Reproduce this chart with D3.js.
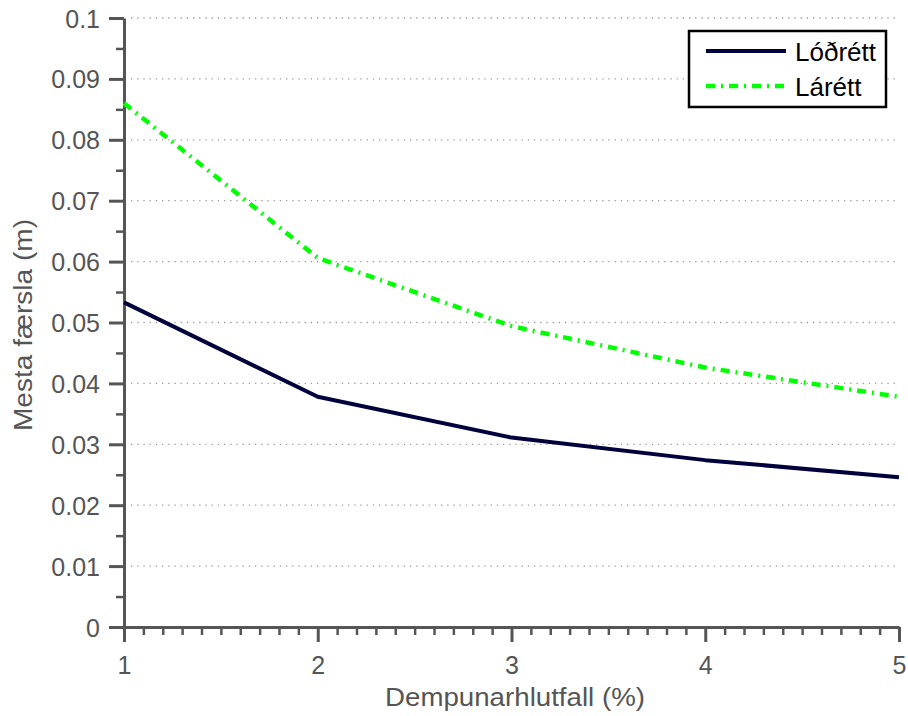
<!DOCTYPE html>
<html>
<head>
<meta charset="utf-8">
<script src="https://cdn.jsdelivr.net/npm/d3@7"></script>
<style>
  html, body { margin: 0; padding: 0; background: #fff; }
  svg { display: block; }
  text { font-family: "Liberation Sans", Arial, sans-serif; }
</style>
</head>
<body>
<svg id="chart" width="908" height="716"></svg>
<script>
// Damping ratio (%) and peak displacement (m)
const dampingRatio = [1, 2, 3, 4, 5];
const verticalDisp = [0.0533, 0.0378, 0.0311, 0.0274, 0.0246];   // Lóðrétt
const horizontalDisp = [0.0860, 0.0606, 0.0494, 0.0426, 0.0378]; // Lárétt

const seriesNames = ["Lóðrétt", "Lárétt"];
const xTickValues = [1, 2, 3, 4, 5];
const yTickValues = [0, 0.01, 0.02, 0.03, 0.04, 0.05, 0.06, 0.07, 0.08, 0.09, 0.1];
const yTickLabels = ["0", "0.01", "0.02", "0.03", "0.04", "0.05", "0.06", "0.07", "0.08", "0.09", "0.1"];
const xTitle = "Dempunarhlutfall (%)";
const yTitle = "Mesta færsla (m)";

const svg = d3.select("#chart");
const axisColor = "#555";

const x = d3.scaleLinear().domain([1, 5]).range([124, 899]);
const y = d3.scaleLinear().domain([0, 0.1]).range([627, 18]);

// horizontal dotted grid at the major y ticks
svg.append("g").selectAll("line")
  .data(yTickValues.filter(v => v > 0))
  .join("line")
  .attr("x1", x(1) + 7).attr("x2", x(5))
  .attr("y1", d => y(d)).attr("y2", d => y(d))
  .attr("stroke", "#9a9a9a")
  .attr("stroke-width", 1.3)
  .attr("stroke-dasharray", "1.3,4.9");

// minor ticks
const xMinor = d3.range(10, 51).map(v => v / 10).filter(v => !xTickValues.includes(v));
const yMinor = d3.range(0, 21).map(v => v * 0.005).filter((v, i) => i % 2 === 1);

svg.append("g").attr("transform", `translate(0,${y(0)})`)
  .call(d3.axisBottom(x).tickValues(xMinor).tickSize(8).tickFormat(""))
  .call(g => g.select(".domain").remove())
  .call(g => g.selectAll("line").attr("stroke", axisColor).attr("stroke-width", 2.5));

svg.append("g").attr("transform", `translate(${x(1)},0)`)
  .call(d3.axisLeft(y).tickValues(yMinor).tickSize(8).tickFormat(""))
  .call(g => g.select(".domain").remove())
  .call(g => g.selectAll("line").attr("stroke", axisColor).attr("stroke-width", 2.5));

// major axes
const xAxis = svg.append("g").attr("transform", `translate(0,${y(0)})`)
  .call(d3.axisBottom(x).tickValues(xTickValues).tickSize(15).tickSizeOuter(0).tickPadding(14)
    .tickFormat(d3.format("d")));
const yAxis = svg.append("g").attr("transform", `translate(${x(1)},0)`)
  .call(d3.axisLeft(y).tickValues(yTickValues).tickSize(15).tickSizeOuter(0).tickPadding(9)
    .tickFormat((d, i) => yTickLabels[i]));

[xAxis, yAxis].forEach(g => {
  g.select(".domain").attr("stroke", axisColor).attr("stroke-width", 3);
  g.selectAll(".tick line").attr("stroke", axisColor).attr("stroke-width", 3);
  g.selectAll(".tick text").attr("fill", axisColor).style("font-size", "25px")
    .style("font-family", "'Liberation Sans', Arial, sans-serif");
});
yAxis.selectAll(".tick text").attr("dy", "0.36em");

// axis titles
svg.append("text")
  .attr("x", 385).attr("y", 706)
  .attr("textLength", 260)
  .attr("lengthAdjust", "spacingAndGlyphs")
  .attr("fill", axisColor)
  .style("font-size", "26px")
  .text(xTitle);

svg.append("text")
  .attr("transform", `translate(32,431) rotate(-90)`)
  .attr("textLength", 212)
  .attr("lengthAdjust", "spacingAndGlyphs")
  .attr("fill", axisColor)
  .style("font-size", "26px")
  .text(yTitle);

// series lines
const line = d3.line().x(d => x(d[0])).y(d => y(d[1]));
const vertData = dampingRatio.map((d, i) => [d, verticalDisp[i]]);
const horzData = dampingRatio.map((d, i) => [d, horizontalDisp[i]]);

svg.append("path").datum(horzData)
  .attr("d", line)
  .attr("fill", "none")
  .attr("stroke", "#00ff00")
  .attr("stroke-width", 4.5)
  .attr("stroke-dasharray", "9,6,2,6");

svg.append("path").datum(vertData)
  .attr("d", line)
  .attr("fill", "none")
  .attr("stroke", "#00003c")
  .attr("stroke-width", 4)
  .attr("stroke-linejoin", "round");

// legend
const legend = svg.append("g");
legend.append("rect")
  .attr("x", 689).attr("y", 31).attr("width", 197).attr("height", 76)
  .attr("fill", "#fff").attr("stroke", "#000").attr("stroke-width", 2.5);

const legendStyles = [
  { color: "#00003c", width: 4, dash: null },
  { color: "#00ff00", width: 4.5, dash: "9,6,2,6" }
];
seriesNames.forEach((name, i) => {
  const cy = 51 + i * 35;
  legend.append("line")
    .attr("x1", 706).attr("x2", 786).attr("y1", cy).attr("y2", cy)
    .attr("stroke", legendStyles[i].color)
    .attr("stroke-width", legendStyles[i].width)
    .attr("stroke-dasharray", legendStyles[i].dash);
  legend.append("text")
    .attr("x", 795).attr("y", cy + 10)
    .attr("fill", "#000")
    .style("font-size", "26px")
    .text(name);
});
</script>
</body>
</html>
